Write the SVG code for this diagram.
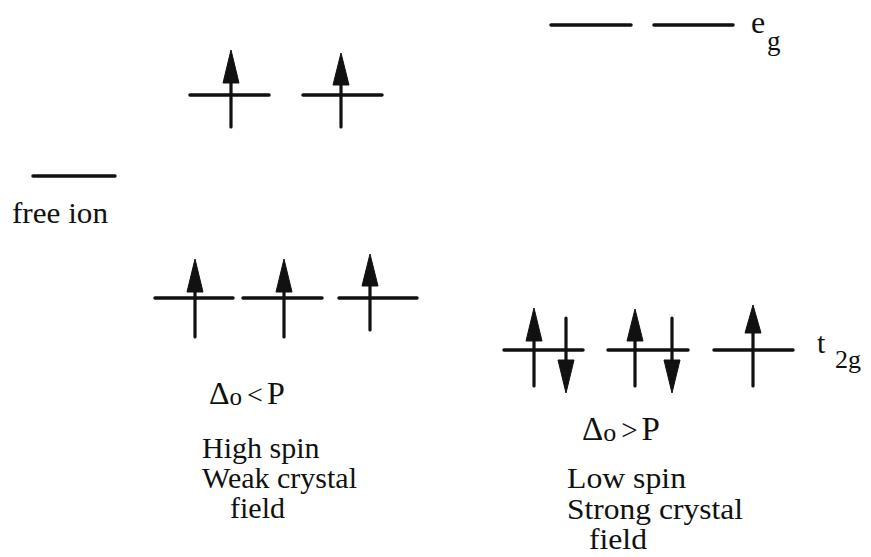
<svg xmlns="http://www.w3.org/2000/svg" width="871" height="557" viewBox="0 0 871 557">
<defs>
<style>
.lv{stroke:#111;stroke-width:3.5;stroke-linecap:round;fill:none}
.st{stroke:#111;stroke-width:3.2;stroke-linecap:round;fill:none}
.hd{fill:#111;stroke:#111;stroke-width:1;stroke-linejoin:round}
text{font-family:'Liberation Serif','DejaVu Serif',serif;fill:#111}
</style>
</defs>
<rect width="871" height="557" fill="#fff"/>

<g id="free-ion">
<line class="lv" x1="33" y1="176" x2="115" y2="176"/>
<text font-family="Liberation Serif, DejaVu Serif, serif" x="12" y="223" font-size="30" textLength="96" lengthAdjust="spacingAndGlyphs">free ion</text>
</g>

<g id="high-spin-eg">
<line class="lv" x1="190" y1="95" x2="269" y2="95"/>
<line class="st" x1="231" y1="83" x2="231" y2="127"/>
<polygon class="hd" points="231,50 239,83 223,83"/>
<line class="lv" x1="303" y1="95" x2="382" y2="95"/>
<line class="st" x1="341" y1="85" x2="341" y2="127"/>
<polygon class="hd" points="341,53 349,85 333,85"/>
</g>

<g id="high-spin-t2g">
<line class="lv" x1="155" y1="298" x2="233" y2="298"/>
<line class="st" x1="195" y1="292" x2="195" y2="337"/>
<polygon class="hd" points="195,259 203,292 187,292"/>
<line class="lv" x1="243" y1="298" x2="322" y2="298"/>
<line class="st" x1="284" y1="292" x2="284" y2="337"/>
<polygon class="hd" points="284,259 292,292 276,292"/>
<line class="lv" x1="339" y1="298" x2="417" y2="298"/>
<line class="st" x1="370" y1="286" x2="370" y2="330"/>
<polygon class="hd" points="370,254 378,286 362,286"/>
</g>

<g id="high-spin-label" font-family="Liberation Serif, DejaVu Serif, serif">
<text x="209" y="404" font-size="32">Δ<tspan font-size="25" dy="1">o</tspan><tspan font-size="28" dx="5" dy="-1">&lt;</tspan><tspan dx="4">P</tspan></text>
<text x="202" y="458" font-size="30">High spin</text>
<text x="202" y="488" font-size="30">Weak crystal</text>
<text x="230" y="518" font-size="30">field</text>
</g>

<g id="low-spin-eg">
<line class="lv" x1="551" y1="25" x2="631" y2="25"/>
<line class="lv" x1="654" y1="25" x2="733" y2="25"/>
<text font-family="Liberation Serif, DejaVu Serif, serif" x="751" y="33" font-size="32">e</text>
<text font-family="Liberation Serif, DejaVu Serif, serif" x="767" y="50" font-size="27">g</text>
</g>

<g id="low-spin-t2g">
<line class="lv" x1="504" y1="350" x2="583" y2="350"/>
<line class="st" x1="534" y1="341" x2="534" y2="386"/>
<polygon class="hd" points="534,308 542,341 526,341"/>
<line class="st" x1="566" y1="318" x2="566" y2="361"/>
<polygon class="hd" points="566,393 574,360 558,360"/>
<line class="lv" x1="608" y1="350" x2="688" y2="350"/>
<line class="st" x1="635" y1="341" x2="635" y2="386"/>
<polygon class="hd" points="635,309 643,341 627,341"/>
<line class="st" x1="672" y1="318" x2="672" y2="361"/>
<polygon class="hd" points="672,393 680,360 664,360"/>
<line class="lv" x1="714" y1="350" x2="793" y2="350"/>
<line class="st" x1="753" y1="333" x2="753" y2="386"/>
<polygon class="hd" points="753,305 761,333 745,333"/>
<text font-family="Liberation Serif, DejaVu Serif, serif" x="817" y="353" font-size="30">t</text>
<text font-family="Liberation Serif, DejaVu Serif, serif" x="835" y="368" font-size="26">2g</text>
</g>

<g id="low-spin-label" font-family="Liberation Serif, DejaVu Serif, serif">
<text x="582" y="440" font-size="33">Δ<tspan font-size="26" dy="1">o</tspan><tspan font-size="29" dx="5" dy="-1">&gt;</tspan><tspan dx="4">P</tspan></text>
<text x="567" y="488" font-size="29" textLength="119" lengthAdjust="spacingAndGlyphs">Low spin</text>
<text x="567" y="519" font-size="29" textLength="176" lengthAdjust="spacingAndGlyphs">Strong crystal</text>
<text x="589" y="549" font-size="29" textLength="58" lengthAdjust="spacingAndGlyphs">field</text>
</g>
</svg>
